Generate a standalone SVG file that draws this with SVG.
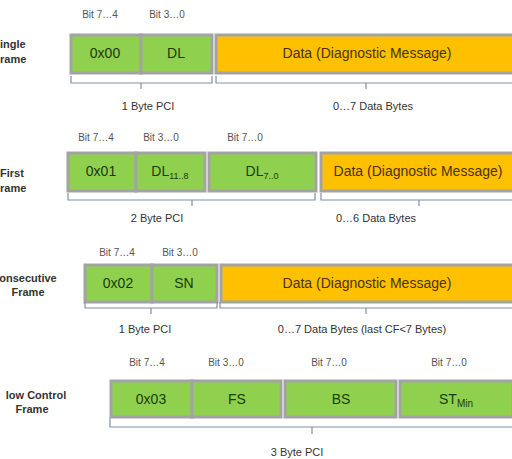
<svg xmlns="http://www.w3.org/2000/svg" width="512" height="459" viewBox="0 0 512 459">
<style>
.g{fill:#8fd14f;stroke:#a3a3a3;stroke-width:3}
.o{fill:#ffc000;stroke:#a3a3a3;stroke-width:3}
.bt{font-family:"Liberation Sans",Arial,sans-serif;font-size:14px;fill:#1d3a0a;text-anchor:middle}
.dt{font-family:"Liberation Sans",Arial,sans-serif;font-size:14px;fill:#4a3300;text-anchor:middle}
.bit{font-family:"Liberation Sans",Arial,sans-serif;font-size:10px;fill:#555;text-anchor:middle}
.lb{font-family:"Liberation Sans",Arial,sans-serif;font-size:11px;fill:#333;text-anchor:middle}
.fl{font-family:"Liberation Sans",Arial,sans-serif;font-size:11px;font-weight:bold;fill:#333}
.br{fill:none;stroke:#8090a8;stroke-width:1.2}
</style>
<rect width="512" height="459" fill="#fff"/>

<g id="single-frame">
<text class="fl" x="0" y="48">ingle</text>
<text class="fl" x="0" y="63">rame</text>
<text class="bit" x="100" y="18">Bit 7…4</text>
<text class="bit" x="167" y="18">Bit 3…0</text>
<rect class="g" x="71" y="35" width="70" height="38"/>
<rect class="g" x="141" y="35" width="71" height="38"/>
<rect class="o" x="216" y="35" width="300" height="38"/>
<text class="bt" x="105" y="58">0x00</text>
<text class="bt" x="176" y="58">DL</text>
<text class="dt" x="367" y="58">Data (Diagnostic Message)</text>
<text class="lb" x="148" y="110">1 Byte PCI</text>
<text class="lb" x="373" y="110">0…7 Data Bytes</text>
</g>

<g id="first-frame">
<text class="fl" x="0" y="177">First</text>
<text class="fl" x="0" y="192">rame</text>
<text class="bit" x="96" y="141">Bit 7…4</text>
<text class="bit" x="161" y="141">Bit 3…0</text>
<text class="bit" x="245" y="141">Bit 7…0</text>
<rect class="g" x="68" y="153" width="68" height="38"/>
<rect class="g" x="136" y="153" width="69" height="38"/>
<rect class="g" x="209" y="153" width="107" height="38"/>
<rect class="o" x="321" y="153" width="200" height="38"/>
<text class="bt" x="101" y="176">0x01</text>
<text class="bt" x="170" y="176">DL<tspan font-size="9" dy="3">11..8</tspan></text>
<text class="bt" x="262" y="176">DL<tspan font-size="9" dy="3">7..0</tspan></text>
<text class="dt" x="418" y="176">Data (Diagnostic Message)</text>
<text class="lb" x="157" y="222">2 Byte PCI</text>
<text class="lb" x="376" y="222">0…6 Data Bytes</text>
</g>

<g id="consecutive-frame">
<text class="fl" x="28" y="282" text-anchor="middle">onsecutive</text>
<text class="fl" x="28" y="296" text-anchor="middle">Frame</text>
<text class="bit" x="117" y="256">Bit 7…4</text>
<text class="bit" x="180" y="256">Bit 3…0</text>
<rect class="g" x="85" y="265" width="67" height="37"/>
<rect class="g" x="152" y="265" width="65" height="37"/>
<rect class="o" x="221" y="265" width="300" height="37"/>
<text class="bt" x="118" y="288">0x02</text>
<text class="bt" x="184" y="288">SN</text>
<text class="dt" x="367" y="288">Data (Diagnostic Message)</text>
<text class="lb" x="145" y="333">1 Byte PCI</text>
<text class="lb" x="362" y="333">0…7 Data Bytes (last CF&lt;7 Bytes)</text>
</g>

<g id="flow-control-frame">
<text class="fl" x="36" y="399" text-anchor="middle">low Control</text>
<text class="fl" x="32" y="413" text-anchor="middle">Frame</text>
<text class="bit" x="147" y="366" font-size="11">Bit 7…4</text>
<text class="bit" x="226" y="366" font-size="11">Bit 3…0</text>
<text class="bit" x="329" y="366" font-size="11">Bit 7…0</text>
<text class="bit" x="449" y="366" font-size="11">Bit 7…0</text>
<rect class="g" x="111" y="381" width="81" height="36"/>
<rect class="g" x="192" y="381" width="89" height="36"/>
<rect class="g" x="285" y="381" width="111" height="36"/>
<rect class="g" x="400" y="381" width="113" height="36"/>
<text class="bt" x="151" y="404" font-size="16">0x03</text>
<text class="bt" x="237" y="404" font-size="16">FS</text>
<text class="bt" x="341" y="404" font-size="16">BS</text>
<text class="bt" x="456" y="404" font-size="16">ST<tspan font-size="10" dy="3">Min</tspan></text>
<text class="lb" x="297" y="456" font-size="13">3 Byte PCI</text>
</g>

<g id="connectors">
<path class="br" d="M71 76 V83 H212 V76 M141 83 V89"/>
<path class="br" d="M216 76 V83 H520 M366 83 V89"/>
<path class="br" d="M68 193 V200 H315 V193 M192 200 V206"/>
<path class="br" d="M321 193 V200 H520 M419 200 V206"/>
<path class="br" d="M85 302 V308 H217 V302 M151 308 V314"/>
<path class="br" d="M220 302 V308 H520 M366 308 V314"/>
<path class="br" d="M110 418 V427 H520 M312 427 V434"/>
</g>
</svg>
